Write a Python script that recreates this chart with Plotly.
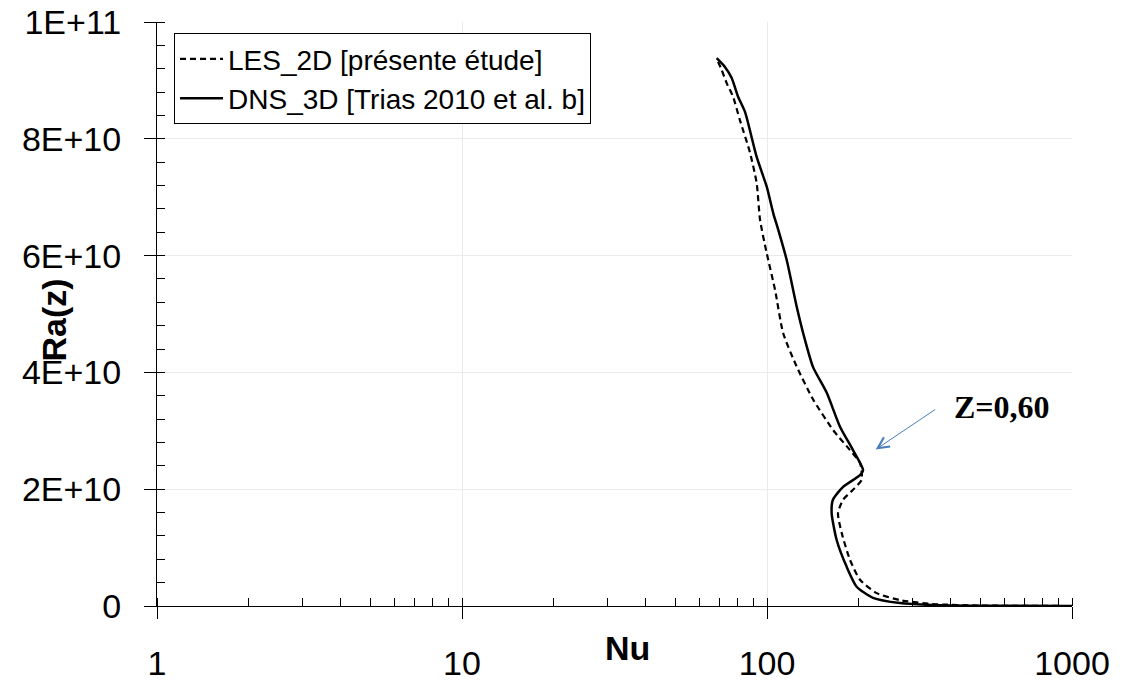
import plotly.graph_objects as go

# ---- data (Nu, Ra(z)) ----
les_nu = [69.1, 71.0, 73.8, 77.4, 81.5, 88.0, 92.5, 94.9, 99.8, 106.3, 113.0, 125.1,
          141.9, 164.9, 187.1, 201.8, 204.4, 191.4, 177.6, 170.9, 175.8, 187.1, 201.8,
          229.0, 273.0, 350.0, 500.0, 1000.0]
les_ra = [9.32e10, 9.18e10, 8.95e10, 8.72e10, 8.32e10, 7.76e10, 7.24e10, 6.61e10, 6.04e10,
          5.41e10, 4.67e10, 4.10e10, 3.53e10, 3.01e10, 2.67e10, 2.45e10, 2.16e10, 1.99e10,
          1.82e10, 1.59e10, 1.25e10, 0.79e10, 0.45e10, 0.22e10, 0.10e10, 0.034e10,
          0.008e10, 0.0]

dns_nu = [68.4, 72.8, 76.6, 80.4, 84.7, 92.5, 99.8, 104.9, 108.9, 116.1, 125.1, 133.3,
          141.6, 157.0, 173.5, 191.4, 206.5, 201.8, 177.6, 164.5, 162.9, 169.2, 182.5,
          196.8, 222.6, 273.0, 350.0, 500.0, 1000.0]
dns_ra = [9.38e10, 9.23e10, 9.04e10, 8.72e10, 8.46e10, 7.69e10, 7.18e10, 6.72e10, 6.44e10,
          5.92e10, 5.13e10, 4.55e10, 4.09e10, 3.65e10, 3.07e10, 2.67e10, 2.33e10, 2.24e10,
          2.04e10, 1.82e10, 1.59e10, 1.13e10, 0.67e10, 0.33e10, 0.14e10, 0.05e10,
          0.017e10, 0.004e10, 0.0]

x_tickvals = [1, 10, 100, 1000]
x_ticktext = ["1", "10", "100", "1000"]
y_tickvals = [0, 2e10, 4e10, 6e10, 8e10, 1e11]
y_ticktext = ["0", "2E+10", "4E+10", "6E+10", "8E+10", "1E+11"]

legend_les = "LES_2D [présente étude]"
legend_dns = "DNS_3D [Trias 2010 et al. b]"
annot_text = "Z=0,60"
annot_point = (227, 2.68e10)

FONT = "Arial, Liberation Sans, sans-serif"

fig = go.Figure()
fig.add_trace(go.Scatter(x=les_nu, y=les_ra, mode="lines", name=legend_les,
                         line=dict(color="black", width=2.2, dash="6px,4px", shape="spline", smoothing=0.6)))
fig.add_trace(go.Scatter(x=dns_nu, y=dns_ra, mode="lines", name=legend_dns,
                         line=dict(color="black", width=2.5, shape="spline", smoothing=0.6)))

fig.update_layout(
    width=1125, height=684,
    margin=dict(l=157, r=53, t=22, b=78, autoexpand=False),
    paper_bgcolor="white", plot_bgcolor="white",
    font=dict(family=FONT, color="black"),
    showlegend=True,
    legend=dict(x=0.0186, y=0.981, xanchor="left", yanchor="top",
                bordercolor="black", borderwidth=1, bgcolor="white",
                font=dict(size=28, family=FONT), tracegroupgap=0, itemwidth=43),
    xaxis=dict(type="log", range=[0, 3], tickvals=x_tickvals, ticktext=x_ticktext,
               showline=True, linecolor="black", linewidth=1,
               ticks="outside", ticklen=12, tickcolor="black", tickwidth=1,
               showgrid=True, gridcolor="#ebebeb", gridwidth=1, zeroline=False,
               tickfont=dict(size=34, family=FONT), ticklabelstandoff=15,
               ticklabeloverflow="allow",
               minor=dict(ticks="inside", ticklen=8, tickcolor="black", dtick="D1", showgrid=False)),
    yaxis=dict(range=[0, 1e11], tickvals=y_tickvals, ticktext=y_ticktext,
               showline=True, linecolor="black", linewidth=1,
               ticks="outside", ticklen=12, tickcolor="black", tickwidth=1,
               showgrid=True, gridcolor="#ebebeb", gridwidth=1, zeroline=False,
               tickfont=dict(size=34, family=FONT), ticklabelstandoff=16,
               ticklabeloverflow="allow",
               minor=dict(ticks="inside", ticklen=8, tickcolor="black", dtick=4e9, showgrid=False)),
    xaxis2=dict(type="log", range=[0, 3], overlaying="x", anchor="y", side="bottom",
                tickvals=x_tickvals, showticklabels=False, ticks="inside", ticklen=10,
                tickcolor="black", showgrid=False, showline=False, zeroline=False),
    yaxis2=dict(range=[0, 1e11], overlaying="y", anchor="x", side="left",
                tickvals=y_tickvals, showticklabels=False, ticks="inside", ticklen=10,
                tickcolor="black", showgrid=False, showline=False, zeroline=False),
)

# axis titles
fig.add_annotation(text="<b>Nu</b>", xref="paper", yref="paper", x=0.514, y=-0.072,
                   showarrow=False, font=dict(size=34, family=FONT), xanchor="center", yanchor="middle")
fig.add_annotation(text="<b>Ra(z)</b>", xref="paper", yref="paper", x=-0.113, y=0.49,
                   showarrow=False, textangle=-90, font=dict(size=34, family=FONT),
                   xanchor="center", yanchor="middle")

# arrow + label
fig.add_annotation(x=2.3564, y=annot_point[1], xref="x", yref="y", text="",
                   showarrow=True, ax=61, ay=-41, arrowcolor="#4a7ebb",
                   arrowwidth=1, arrowhead=5, arrowsize=2.2)
fig.add_annotation(text="<b>" + annot_text + "</b>", xref="paper", yref="paper",
                   x=0.9235, y=0.341, showarrow=False, xanchor="center", yanchor="middle",
                   font=dict(size=32, family="Times New Roman, Liberation Serif, serif"))

fig.write_html("out.html", config={"displayModeBar": False},
               post_script="document.body.style.margin='0';")
